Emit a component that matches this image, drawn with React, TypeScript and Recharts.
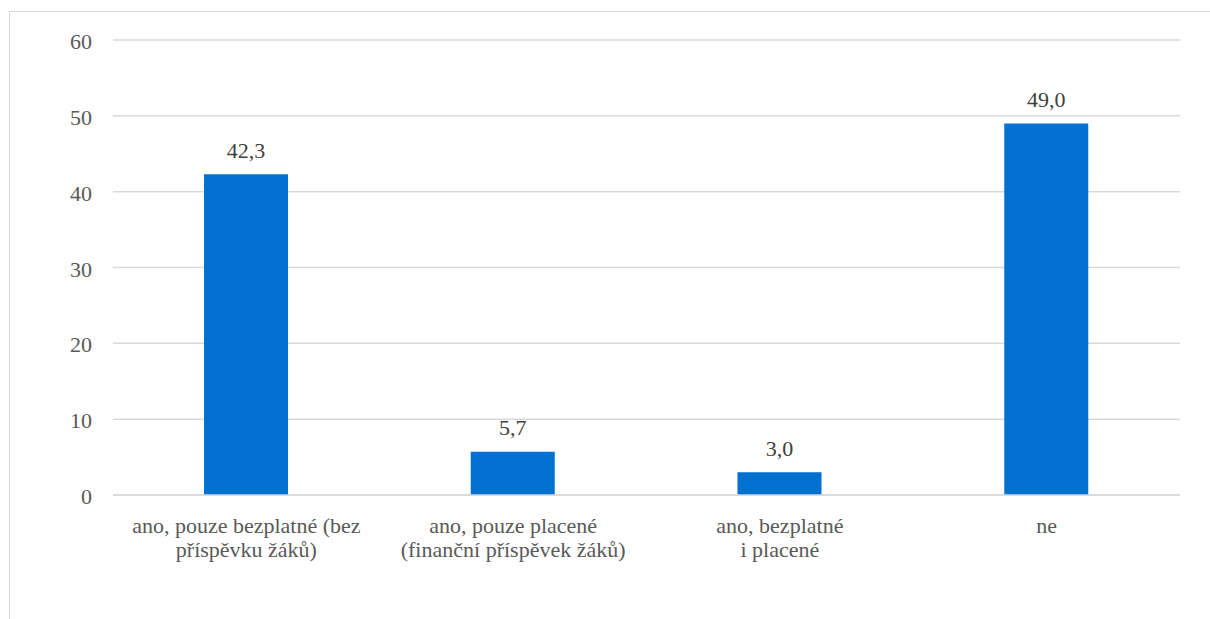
import React from "react";
import { BarChart, Bar, XAxis, YAxis, CartesianGrid, LabelList } from "recharts";

const categories: string[][] = [
  ["ano, pouze bezplatné (bez", "příspěvku žáků)"],
  ["ano, pouze placené", "(finanční příspěvek žáků)"],
  ["ano, bezplatné", "i placené"],
  ["ne"],
];
const values: number[] = [42.3, 5.7, 3.0, 49.0];
const yTicks: number[] = [0, 10, 20, 30, 40, 50, 60];

const data = categories.map((c, i) => ({ name: c.join("\n"), value: values[i] }));

const FONT = "Liberation Serif";

const setSerif = (el: SVGTextElement | null) => {
  if (el) el.style.setProperty("font-family", "'Liberation Serif', 'Times New Roman', serif", "important");
};

const XTick = (props: any) => {
  const { x, y, payload } = props;
  const lines = String(payload.value).split("\n");
  return (
    <text ref={setSerif} className="serif-text" x={x} y={y} textAnchor="middle" fill="#595959" fontSize={22} fontFamily={FONT}>
      {lines.map((l, i) => (
        <tspan key={i} x={x} dy={i === 0 ? 38 : 24}>
          {l}
        </tspan>
      ))}
    </text>
  );
};

const YTick = (props: any) => {
  const { x, y, payload } = props;
  return (
    <text ref={setSerif} className="serif-text" x={x} y={y} dy={9} textAnchor="end" fill="#595959" fontSize={22} fontFamily={FONT}>
      {payload.value}
    </text>
  );
};

const ValueLabel = (props: any) => {
  const { x, y, width, value } = props;
  return (
    <text ref={setSerif} className="serif-text" x={x + width / 2} y={y} dy={-16.5} textAnchor="middle" fill="#404040" fontSize={22} fontFamily={FONT}>
      {Number(value).toFixed(1).replace(".", ",")}
    </text>
  );
};

export default function App() {
  return (
    <div style={{ position: "absolute", left: 0, top: 0, width: 1210, height: 619, background: "#fff", overflow: "hidden" }}>
      <style>{`html body #root svg text.serif-text, html body #root svg text.serif-text tspan { font-family: 'Liberation Serif', 'Times New Roman', serif !important; }`}</style>
      <div style={{ position: "absolute", left: 9, top: 11, width: 1220, height: 640, border: "1.5px solid #d9d9d9", boxSizing: "border-box" }} />
      <div style={{ position: "absolute", left: 0, top: 0 }}>
        <BarChart width={1210} height={619} data={data} margin={{ top: 40, right: 30, bottom: 0, left: 0 }} barSize={84}>
          <CartesianGrid vertical={false} stroke="#d9d9d9" strokeWidth={1.5} />
          <XAxis
            dataKey="name"
            height={124}
            axisLine={{ stroke: "#d9d9d9", strokeWidth: 1.5 }}
            tickLine={false}
            tick={<XTick />}
            interval={0}
            tickSize={0}
            tickMargin={0}
          />
          <YAxis
            width={113}
            domain={[0, 60]}
            ticks={yTicks}
            axisLine={false}
            tickLine={false}
            tickSize={0}
            tickMargin={21}
            tick={<YTick />}
          />
          <Bar dataKey="value" fill="#0071CE" isAnimationActive={false}>
            <LabelList dataKey="value" content={<ValueLabel />} />
          </Bar>
        </BarChart>
      </div>
    </div>
  );
}
